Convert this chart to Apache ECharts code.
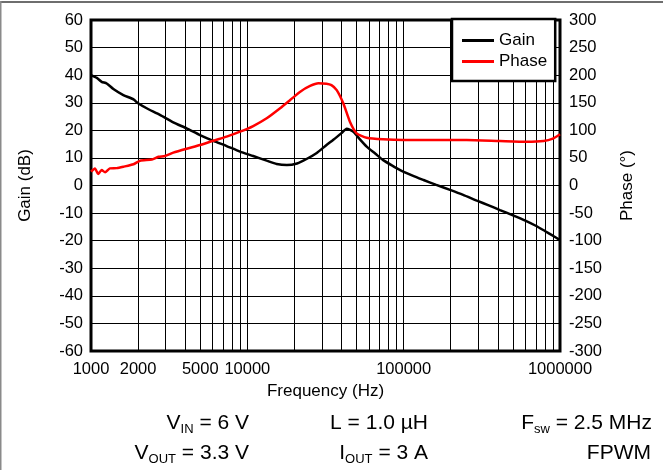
<!DOCTYPE html>
<html>
<head>
<meta charset="utf-8">
<script src="https://cdn.jsdelivr.net/npm/echarts@6/dist/echarts.min.js"></script>
<style>
html,body{margin:0;padding:0;background:#fff;}
#chart{width:663px;height:470px;}
</style>
</head>
<body>
<div id="chart"></div>
<script>
// Frequency axis labels (Hz)
const freqLabels = [1000, 2000, 5000, 10000, 100000, 1000000];

// Gain curve (dB)
const freqGain = [1000, 1090, 1170, 1260, 1390, 1610, 1870, 2000, 2270, 2760, 3360, 4090, 4980, 6060, 7370, 8980, 10900, 13300, 15400, 17900, 20800, 23900, 27800, 32100, 35500, 40000, 43200, 47700, 52000, 58000, 66000, 74000, 84000, 95000, 115000, 134000, 160000, 198000, 240000, 294000, 350000, 413000, 500000, 600000, 700000, 800000, 900000, 1000000];
const gainDb = [40.0, 39.0, 37.6, 37.0, 35.0, 32.8, 31.2, 29.8, 28.0, 25.6, 22.9, 20.7, 18.3, 16.2, 14.3, 12.3, 10.7, 9.0, 7.8, 7.4, 8.0, 9.6, 11.8, 14.7, 16.6, 19.0, 20.6, 19.5, 17.0, 14.1, 11.5, 9.2, 7.3, 5.6, 3.5, 2.0, 0.3, -1.6, -3.4, -5.5, -7.2, -8.9, -10.8, -12.7, -14.6, -16.5, -18.2, -19.8];

// Phase curve (degrees)
const freqPhase = [1000, 1060, 1110, 1170, 1230, 1320, 1460, 1610, 1870, 2060, 2450, 2700, 2970, 3360, 4090, 4980, 6060, 7370, 8980, 10900, 13300, 16200, 18800, 21800, 25200, 28500, 32100, 34500, 37300, 41100, 45300, 50000, 58000, 74000, 100000, 155000, 253000, 413000, 611000, 785000, 900000, 1000000];
const phaseDeg = [25, 31, 21, 28, 24, 31, 31.5, 34, 38.5, 45, 47, 52, 53.5, 59.5, 66.7, 73.4, 81.2, 88.5, 97.5, 107.8, 121.8, 140, 155, 170, 180.4, 185.2, 184.5, 182, 173, 149, 115.6, 94.6, 86.6, 83.7, 82.5, 82.5, 82.5, 80.7, 79.4, 80.7, 85, 93];

const zip = (xs, ys) => xs.map((x, i) => [x, ys[i]]);

const FONT = 'Liberation Sans, Arial, sans-serif';
const chart = echarts.init(document.getElementById('chart'), null, {renderer: 'canvas'});

const rich = {
  n: {fontSize: 21, fontFamily: FONT, color: '#000', lineHeight: 26},
  s: {fontSize: 13, fontFamily: FONT, color: '#000', lineHeight: 13, verticalAlign: 'bottom'}
};
function ann(text, x, y) {
  return {type: 'text', z: 10, style: {text: text, rich: rich, x: x, y: y, align: 'right', verticalAlign: 'middle', fontSize: 21, fontFamily: FONT}};
}

chart.setOption({
  animation: false,
  backgroundColor: '#fff',
  textStyle: {fontFamily: FONT},
  grid: {left: 91, right: 103, top: 20, bottom: 119, show: true, borderColor: '#000', borderWidth: 3, backgroundColor: 'transparent', z: 3},
  legend: {
    data: ['Gain', 'Phase'],
    orient: 'vertical', left: 452, top: 19,
    padding: [13, 8, 11, 10], itemGap: 4,
    icon: 'rect', itemWidth: 32, itemHeight: 3,
    borderColor: '#000', borderWidth: 2.5, backgroundColor: '#fff',
    textStyle: {fontSize: 17, color: '#000', fontFamily: FONT, lineHeight: 16},
    z: 20
  },
  xAxis: [{
    type: 'log', logBase: 10, min: 1000, max: 1000000,
    axisLine: {show: false}, axisTick: {show: false}, axisLabel: {show: false},
    splitLine: {show: true, lineStyle: {color: '#000', width: 1}},
    minorTick: {show: false, splitNumber: 9},
    minorSplitLine: {show: true, lineStyle: {color: '#000', width: 1}}
  }, {
    type: 'value', min: 3, max: 6, position: 'bottom',
    axisLine: {show: false}, axisTick: {show: false}, splitLine: {show: false},
    axisLabel: {
      customValues: freqLabels.map(v => Math.log10(v)),
      formatter: v => String(Math.round(Math.pow(10, v))),
      fontSize: 16.5, color: '#000', margin: 10, fontFamily: FONT
    },
    name: 'Frequency (Hz)', nameLocation: 'middle', nameGap: 30,
    nameTextStyle: {fontSize: 17, color: '#000', fontFamily: FONT}
  }],
  yAxis: [{
    type: 'value', min: -60, max: 60, interval: 10,
    axisLine: {show: false}, axisTick: {show: false},
    splitLine: {show: true, lineStyle: {color: '#000', width: 1}},
    axisLabel: {fontSize: 16.5, color: '#000', margin: 8, fontFamily: FONT},
    name: 'Gain (dB)', nameLocation: 'middle', nameGap: 57, nameRotate: 90,
    nameTextStyle: {fontSize: 17, color: '#000', fontFamily: FONT}
  }, {
    type: 'value', min: -300, max: 300, interval: 50, position: 'right',
    axisLine: {show: false}, axisTick: {show: false}, splitLine: {show: false},
    axisLabel: {fontSize: 16.5, color: '#000', margin: 9, fontFamily: FONT},
    name: 'Phase (°)', nameLocation: 'middle', nameGap: 59, nameRotate: 90,
    nameTextStyle: {fontSize: 17, color: '#000', fontFamily: FONT}
  }],
  series: [{
    name: 'Gain', type: 'line', xAxisIndex: 0, yAxisIndex: 0,
    data: zip(freqGain, gainDb), showSymbol: false, smooth: 0.2,
    lineStyle: {color: '#000', width: 2.5}, itemStyle: {color: '#000'}, z: 5
  }, {
    name: 'Phase', type: 'line', xAxisIndex: 0, yAxisIndex: 1,
    data: zip(freqPhase, phaseDeg), showSymbol: false, smooth: 0.2,
    lineStyle: {color: '#ff0000', width: 2.5}, itemStyle: {color: '#ff0000'}, z: 5
  }],
  graphic: [
    {type: 'rect', shape: {x: 0, y: 1, width: 663, height: 2}, style: {fill: '#6e6e6e'}, z: 10},
    {type: 'rect', shape: {x: 0, y: 1, width: 1.5, height: 469}, style: {fill: '#8a8a8a'}, z: 10},
    ann('{n|V}{s|IN}{n| = 6 V}', 249, 423),
    ann('{n|L = 1.0 µH}', 428, 423),
    ann('{n|F}{s|sw}{n| = 2.5 MHz}', 652, 423),
    ann('{n|V}{s|OUT}{n| = 3.3 V}', 249, 453),
    ann('{n|I}{s|OUT}{n| = 3 A}', 428, 453),
    ann('{n|FPWM}', 651, 453)
  ]
});
</script>
</body>
</html>
